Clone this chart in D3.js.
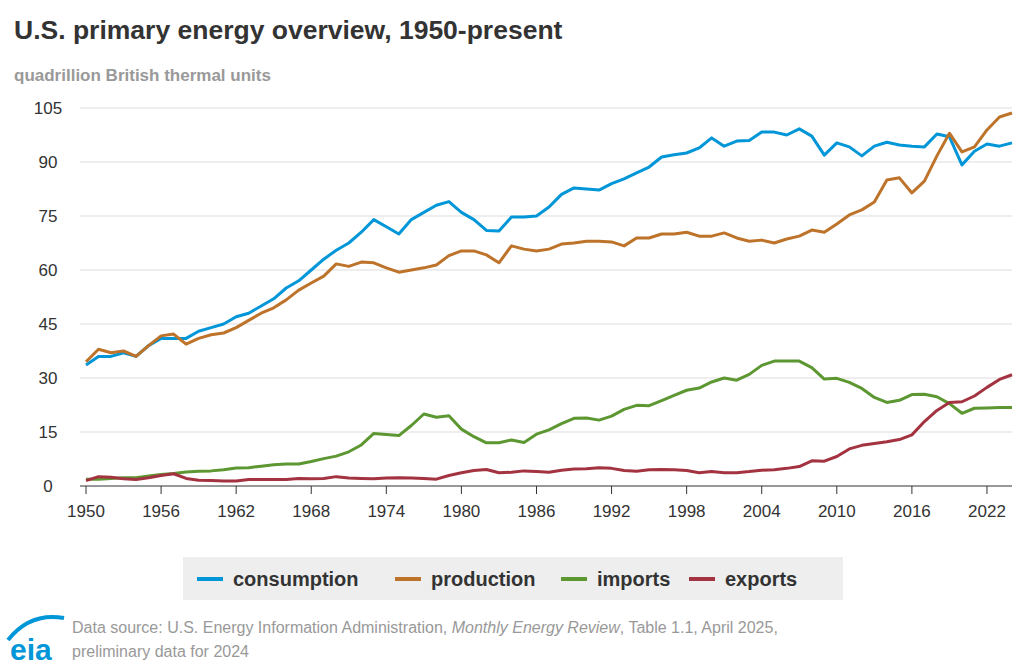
<!DOCTYPE html>
<html><head><meta charset="utf-8">
<script src="https://cdn.jsdelivr.net/npm/d3@7"></script>
<style>body{margin:0;background:#fff;font-family:Arial,"Liberation Sans",sans-serif}</style>
</head><body><svg id="c" width="1024" height="666"></svg>
<script>
const years = d3.range(1950, 2025);
const consumption = [33.6,36,36,37,36,39,41,41,41,43,44,45,47,48,50,52,55,57,60,63,65.5,67.5,70.5,74,72,70,74,76,78,79,76,74,71,70.8,74.7,74.7,75,77.5,81,82.8,82.5,82.2,84,85.3,87,88.6,91.4,92,92.5,93.9,96.7,94.4,95.8,96,98.3,98.3,97.5,99.2,97.2,91.9,95.3,94.2,91.7,94.4,95.5,94.7,94.4,94.2,97.8,97,89.2,93,95,94.4,95.3];
const production = [34.5,38,37,37.5,36,39,41.7,42.2,39.4,41,42,42.5,44,46,48,49.5,51.7,54.4,56.4,58.3,61.7,61,62.2,62,60.6,59.4,60,60.6,61.4,64,65.3,65.3,64.2,62,66.7,65.8,65.3,65.8,67.2,67.5,68,68,67.8,66.7,68.9,68.9,70,70,70.5,69.4,69.4,70.3,68.9,68,68.3,67.5,68.6,69.4,71.1,70.5,72.8,75.3,76.7,78.9,85,85.6,81.4,84.7,91.7,98,92.8,94.2,98.9,102.5,103.6];
const imports = [1.9,1.9,2.1,2.3,2.3,2.8,3.2,3.5,3.9,4.1,4.2,4.5,5.0,5.1,5.5,5.9,6.1,6.1,6.8,7.6,8.3,9.5,11.4,14.6,14.3,14.0,16.8,20.0,19.1,19.5,15.8,13.7,12.0,12.0,12.8,12.1,14.4,15.6,17.3,18.8,18.9,18.3,19.4,21.3,22.4,22.3,23.7,25.2,26.6,27.2,28.9,30.0,29.4,31.0,33.5,34.7,34.7,34.7,32.9,29.7,29.9,28.8,27.1,24.6,23.2,23.8,25.4,25.5,24.8,22.9,20.2,21.6,21.7,21.8,21.8];
const exports_ = [1.5,2.6,2.4,2.0,1.8,2.3,2.9,3.4,2.1,1.6,1.5,1.4,1.4,1.8,1.8,1.8,1.8,2.1,2.0,2.1,2.6,2.2,2.1,2.0,2.2,2.3,2.2,2.1,1.9,2.9,3.7,4.3,4.6,3.7,3.8,4.2,4.0,3.8,4.4,4.7,4.8,5.1,4.9,4.3,4.1,4.5,4.6,4.5,4.3,3.7,4.0,3.7,3.7,4.0,4.4,4.5,4.9,5.4,7.0,6.9,8.2,10.3,11.3,11.8,12.3,12.9,14.2,17.9,21.0,23.2,23.4,25.0,27.4,29.6,30.9];
const seriesNames = ["consumption","production","imports","exports"];
const seriesColors = ["#0096d7","#bd732a","#5d9732","#a33340"];
const seriesData = [consumption, production, imports, exports_];
const yTicks = [0,15,30,45,60,75,90,105];
const xTicks = d3.range(1950, 2025, 6);

const svg = d3.select("#c");
const x = d3.scaleLinear().domain([1950, 2024]).range([86, 1012]);
const y = d3.scaleLinear().domain([0, 105]).range([486, 108]);

svg.append("text").attr("x",14).attr("y",39).attr("font-size",26.5).attr("font-weight","bold").attr("fill","#333").text("U.S. primary energy overview, 1950-present");
svg.append("text").attr("x",14).attr("y",81).attr("font-size",17).attr("font-weight","bold").attr("fill","#999").text("quadrillion British thermal units");

const gy = svg.append("g");
yTicks.forEach(t=>{
  gy.append("line").attr("x1",80).attr("x2",1012).attr("y1",y(t)).attr("y2",y(t)).attr("stroke", t===0?"#333":"#ddd").attr("stroke-width",1);
  gy.append("text").attr("x",48).attr("y",y(t)+6).attr("text-anchor","middle").attr("font-size",17).attr("fill","#333").text(t);
});
xTicks.forEach(t=>{
  svg.append("line").attr("x1",x(t)).attr("x2",x(t)).attr("y1",486).attr("y2",494).attr("stroke","#333");
  svg.append("text").attr("x",x(t)).attr("y",517).attr("text-anchor","middle").attr("font-size",17).attr("fill","#333").text(t);
});

const line = d3.line().x((d,i)=>x(years[i])).y(d=>y(d));
seriesData.forEach((s,k)=>{
  svg.append("path").datum(s).attr("d",line).attr("fill","none").attr("stroke",seriesColors[k]).attr("stroke-width",3).attr("stroke-linejoin","round");
});

svg.append("rect").attr("x",183).attr("y",557).attr("width",660).attr("height",43).attr("fill","#eee");
const lx = [197, 395, 561, 689];
seriesNames.forEach((n,k)=>{
  svg.append("line").attr("x1",lx[k]).attr("x2",lx[k]+26).attr("y1",579).attr("y2",579).attr("stroke",seriesColors[k]).attr("stroke-width",4);
  svg.append("text").attr("x",lx[k]+36).attr("y",586).attr("font-size",20).attr("font-weight","bold").attr("fill","#333").text(n);
});

const lg = svg.append("g");
lg.append("path").attr("d","M8 640 Q30 612 64 618").attr("fill","none").attr("stroke","#0096d7").attr("stroke-width",4);
lg.append("text").attr("x",10).attr("y",660).attr("font-size",30).attr("font-weight","bold").attr("fill","#0096d7").text("eia");

const src = svg.append("text").attr("x",72).attr("y",633).attr("font-size",16).attr("fill","#999");
src.append("tspan").text("Data source: U.S. Energy Information Administration, ");
src.append("tspan").attr("font-style","italic").text("Monthly Energy Review");
src.append("tspan").text(", Table 1.1, April 2025,");
svg.append("text").attr("x",72).attr("y",657).attr("font-size",16).attr("fill","#999").text("preliminary data for 2024");
</script></body></html>
